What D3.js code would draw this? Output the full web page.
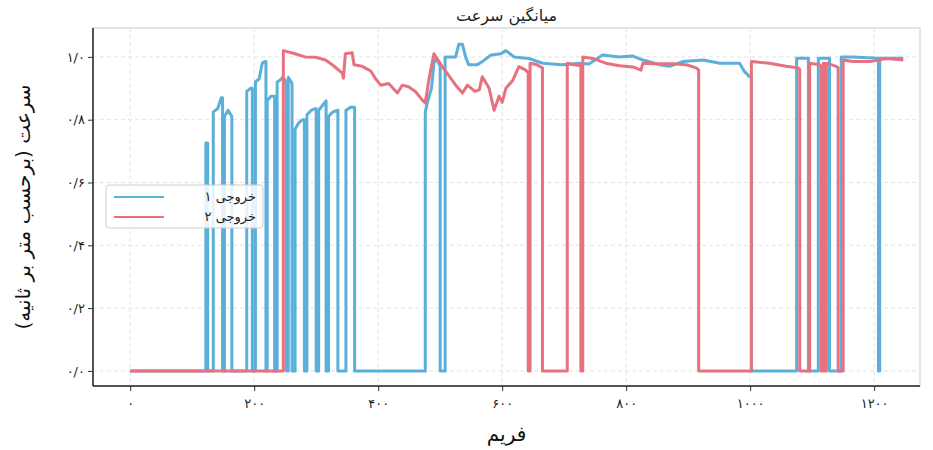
<!DOCTYPE html>
<html><head><meta charset="utf-8">
<script src="https://cdn.jsdelivr.net/npm/d3@7"></script>
<style>body{margin:0;background:#fff}</style></head>
<body><svg id="c" width="933" height="450"></svg>
<script>
const title = "میانگین سرعت";
const xLabel = "فریم";
const yLabel = "سرعت (برحسب متر بر ثانیه)";
const seriesNames = ["خروجی ۱", "خروجی ۲"];
const xTicks = [0,200,400,600,800,1000,1200];
const yTicks = [0,0.2,0.4,0.6,0.8,1.0];
// [frame, speed]
const out1 = [[0,0],[122,0],[122,0.726],[125,0.726],[125,0],[134,0],[134,0.825],[141,0.835],[147,0.87],[149,0.87],[149,0],[152,0],[152,0.81],[158,0.83],[164,0.81],[164,0],
[188,0],[188,0.89],[194,0.9],[197,0.9],[197,0],[202,0],[202,0.92],[208,0.93],[213,0.98],[217,0.985],[219,0.985],[219,0],[221,0],[221,0.86],[227,0.875],[233,0.875],[233,0],
[237,0],[237,0.92],[241,0.925],[246,0.935],[252,0.92],[252,0],[255,0],[255,0.935],[261,0.915],[261,0],
[266,0],[266,0.77],[272,0.79],[278,0.8],[281,0.8],[281,0],[285,0],[285,0.815],[292,0.83],[298,0.835],[300,0.835],[300,0],[304,0],[304,0.83],[312,0.85],[316,0.86],[316,0],
[320,0],[320,0.81],[327,0.825],[335,0.83],[335,0],[348,0],[348,0.83],[356,0.84],[362,0.84],[362,0],
[476,0],[476,0.825],[480,0.86],[486,0.9],[490,0.98],[494,0.995],[500,0.97],[500,0],[508,0],[508,1.0],[525,1.0],[530,1.04],[536,1.04],[541,1.0],[546,0.975],[560,0.975],[568,0.985],[582,1.006],[598,1.01],[606,1.02],[619,1.0],[643,0.995],[665,0.98],[697,0.975],[724,0.98],[740,0.977],[762,1.006],[789,1.0],[810,1.003],[827,0.99],[854,0.975],[870,0.97],[891,0.985],[924,0.99],[951,0.98],[983,0.98],[991,0.953],[999,0.937],[1002,0.935],[1002,0],
[1075,0],[1075,0.996],[1094,0.996],[1094,0],[1110,0],[1110,0.996],[1128,0.996],[1128,0],[1147,0],[1147,1.0],[1166,1.0],[1207,0.996],[1207,0],[1209,0],[1209,0.996],[1247,0.996]];
const out2 = [[0,0],[247,0],[247,1.02],[266,1.01],[282,1.0],[299,0.999],[315,0.99],[326,0.975],[342,0.948],[344,0.932],[347,1.01],[358,1.013],[361,0.975],[374,0.97],[388,0.955],[396,0.93],[404,0.91],[417,0.915],[431,0.885],[439,0.91],[449,0.905],[460,0.89],[471,0.863],[476,0.853],[482,0.93],[490,1.01],[503,0.97],[514,0.94],[525,0.91],[536,0.885],[544,0.91],[556,0.89],[563,0.895],[568,0.937],[579,0.9],[587,0.83],[595,0.875],[600,0.855],[606,0.9],[617,0.925],[627,0.969],[638,0.958],[642,0.95],[642,0],[645,0],[645,0.98],[655,0.976],[665,0.965],[665,0],
[705,0],[705,0.98],[716,0.975],[727,0.972],[727,0],[730,0],[730,1.0],[746,0.995],[767,0.98],[789,0.972],[811,0.968],[824,0.958],[827,0.98],[843,0.978],[875,0.978],[897,0.975],[913,0.965],[917,0.958],[917,0],
[1002,0],[1002,0.985],[1031,0.98],[1058,0.97],[1077,0.965],[1080,0.96],[1080,0],[1096,0],[1096,0.98],[1112,0.975],[1115,0.97],[1115,0],[1118,0],[1118,0.98],[1120,0.98],[1120,0],[1123,0],[1123,0.98],[1139,0.97],[1142,0.965],[1142,0],
[1150,0],[1150,0.99],[1166,0.985],[1193,0.985],[1220,0.995],[1247,0.99]];

const fa = s => String(s).replace(/[0-9]/g, d => "۰۱۲۳۴۵۶۷۸۹"[d]);
const svg = d3.select("#c");
const L=93,R=920,T=28,B=386;
const x = d3.scaleLinear().domain([-60,1274]).range([L,R]);
const y = d3.scaleLinear().domain([-0.048,1.092]).range([B,T]);
const font = "'DejaVu Sans', sans-serif";

svg.append("rect").attr("x",L).attr("y",T).attr("width",R-L).attr("height",B-T).attr("fill","#fff").attr("stroke","#ccc");
const g = svg.append("g");
g.selectAll(".gx").data(xTicks).join("line").attr("x1",d=>x(d)).attr("x2",d=>x(d)).attr("y1",T).attr("y2",B).attr("stroke","#e3e3e3").attr("stroke-dasharray","4,3");
g.selectAll(".gy").data(yTicks).join("line").attr("y1",d=>y(d)).attr("y2",d=>y(d)).attr("x1",L).attr("x2",R).attr("stroke","#e3e3e3").attr("stroke-dasharray","4,3");

const line = d3.line().x(d=>x(d[0])).y(d=>y(d[1]));
svg.append("path").datum(out1).attr("d",line).attr("fill","none").attr("stroke","#5ab0d9").attr("stroke-width",3).attr("stroke-linejoin","round");
svg.append("path").datum(out2).attr("d",line).attr("fill","none").attr("stroke","#e8707f").attr("stroke-width",3).attr("stroke-linejoin","round");

const xa = svg.append("g").attr("transform",`translate(0,${B})`).call(d3.axisBottom(x).tickValues(xTicks).tickSize(5).tickFormat(fa));
const ya = svg.append("g").attr("transform",`translate(${L},0)`).call(d3.axisLeft(y).tickValues(yTicks).tickSize(5).tickFormat(d=>fa(d.toFixed(1)).replace(".","/")));
[xa,ya].forEach(a=>{a.select(".domain").attr("stroke","#222").attr("stroke-width",1.5);a.selectAll(".tick line").attr("stroke","#333");a.selectAll("text").attr("font-family",font).attr("font-size",13).attr("fill","#222");});
xa.selectAll("text").attr("dy","1.1em");
ya.select(".domain").attr("d",`M0,${T}V${B}`);
xa.select(".domain").attr("d",`M${L},0H${R}`);

svg.append("text").attr("x",(L+R)/2).attr("y",21).attr("text-anchor","middle").attr("font-family",font).attr("font-size",16).attr("fill","#222").text(title);
svg.append("text").attr("x",(L+R)/2).attr("y",441).attr("text-anchor","middle").attr("font-family",font).attr("font-size",20).attr("fill","#111").text(xLabel);
svg.append("text").attr("transform",`translate(30,${(T+B)/2}) rotate(-90)`).attr("text-anchor","middle").attr("font-family",font).attr("font-size",20).attr("fill","#111").text(yLabel);

const lg = svg.append("g").attr("transform","translate(106,185)");
lg.append("rect").attr("width",157).attr("height",43).attr("rx",3).attr("fill","rgba(255,255,255,0.85)").attr("stroke","#ccc");
[["#5ab0d9",seriesNames[0]],["#e8707f",seriesNames[1]]].forEach((s,i)=>{
  lg.append("line").attr("x1",8).attr("x2",58).attr("y1",12+i*20).attr("y2",12+i*20).attr("stroke",s[0]).attr("stroke-width",2.2);
  lg.append("text").attr("x",150).attr("y",16+i*20).attr("text-anchor","end").attr("font-family",font).attr("font-size",13).attr("fill","#222").text(s[1]);
});
</script></body></html>
